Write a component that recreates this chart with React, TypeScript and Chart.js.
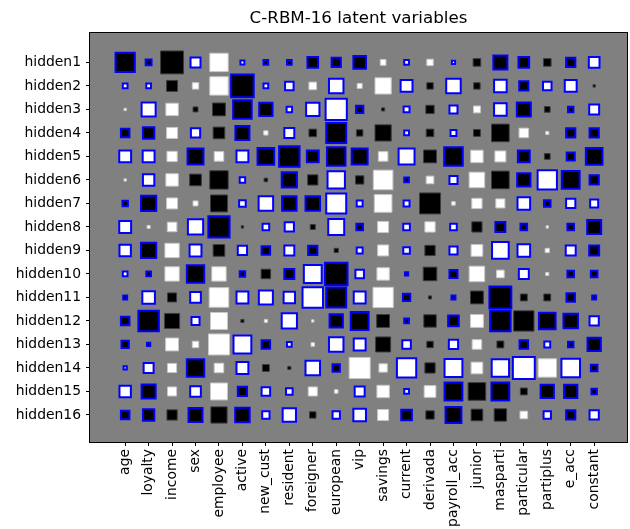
import React, { useEffect, useRef } from "react";
import { Chart, registerables } from "chart.js";

Chart.register(...registerables);

const TITLE = "C-RBM-16 latent variables";

const inputs = [
  "age", "loyalty", "income", "sex", "employee", "active", "new_cust",
  "resident", "foreigner", "european", "vip", "savings", "current",
  "derivada", "payroll_acc", "junior", "masparti", "particular",
  "partiplus", "e_acc", "constant",
];

const hiddenUnits = [
  "hidden1", "hidden2", "hidden3", "hidden4", "hidden5", "hidden6",
  "hidden7", "hidden8", "hidden9", "hidden10", "hidden11", "hidden12",
  "hidden13", "hidden14", "hidden15", "hidden16",
];

// signed weights (positive = white, negative = black)
const weights: number[][] = [
  [-0.89, -0.33, -1.0, 0.5, 0.81, 0.25, -0.28, -0.28, -0.53, -0.47, -0.61, 0.28, 0.28, 0.31, 0.22, -0.36, -0.67, -0.53, -0.36, -0.47, 0.53],
  [0.28, 0.28, -0.5, 0.31, 0.81, -1.03, 0.28, 0.44, 0.36, 0.69, 0.25, 0.72, 0.58, -0.31, 0.69, -0.31, 0.61, -0.47, 0.44, 0.58, -0.14],
  [0.14, 0.67, 0.56, -0.25, -0.58, -0.86, -0.64, 0.31, 0.64, 0.97, -0.39, -0.17, 0.33, -0.39, 0.42, 0.33, 0.61, -0.67, -0.28, -0.31, 0.5],
  [-0.44, -0.56, 0.5, 0.47, -0.53, -0.67, 0.22, 0.5, -0.36, -0.92, -0.31, -0.72, 0.28, -0.36, 0.33, -0.33, -0.78, 0.44, 0.17, -0.47, -0.47],
  [0.58, 0.58, 0.47, -0.75, 0.44, 0.58, -0.78, -0.94, -0.58, -0.86, -0.75, 0.44, 0.75, -0.58, -0.86, 0.56, 0.5, -0.58, -0.28, -0.42, -0.78],
  [0.14, 0.56, 0.56, -0.53, -0.81, 0.31, -0.19, -0.72, -0.47, 0.81, -0.39, 0.86, -0.28, 0.36, 0.42, 0.69, -0.78, -0.64, 0.89, -0.83, -0.47],
  [-0.31, -0.72, 0.5, 0.25, -0.75, 0.36, 0.69, -0.69, -0.69, 0.92, 0.33, 0.78, 0.33, -0.92, 0.19, 0.47, 0.42, 0.61, -0.36, 0.47, 0.42],
  [0.58, 0.17, 0.44, 0.72, -0.97, -0.14, 0.36, 0.47, -0.25, 0.75, -0.36, 0.5, 0.36, 0.47, 0.36, -0.47, -0.5, -0.36, 0.14, -0.36, -0.67],
  [0.56, -0.72, 0.64, 0.58, -0.53, 0.47, -0.44, 0.5, -0.47, -0.22, 0.33, 0.5, 0.36, -0.47, 0.42, 0.53, 0.78, 0.61, 0.22, 0.5, -0.5],
  [0.28, -0.28, 0.64, -0.81, 0.64, -0.31, -0.44, -0.5, 0.83, -1.03, 0.44, 0.56, -0.22, -0.61, -0.42, 0.69, 0.36, 0.5, 0.17, -0.36, -0.36],
  [-0.25, 0.61, -0.42, 0.53, 0.86, 0.58, 0.67, 0.56, 0.94, -0.92, 0.58, 0.89, -0.39, -0.17, -0.25, -0.58, -1.0, -0.33, -0.33, -0.44, -0.25],
  [-0.44, -0.94, -0.67, 0.42, 0.75, -0.17, 0.17, 0.72, 0.14, -0.64, -0.83, -0.58, -0.28, -0.56, -0.53, 0.58, -0.94, -0.89, -0.78, -0.69, 0.47],
  [-0.39, -0.22, 0.58, 0.31, 0.92, 0.83, -0.44, 0.28, 0.19, 0.69, 0.58, -0.67, 0.44, -0.31, 0.47, 0.44, -0.33, -0.44, 0.33, -0.31, -0.64],
  [0.22, 0.5, 0.42, -0.81, 0.44, 0.58, -0.33, -0.17, 0.69, -0.39, 0.92, 0.39, 0.89, -0.47, 0.83, 0.53, 0.81, 1.0, 0.81, 0.86, -0.36],
  [0.56, -0.67, 0.42, 0.53, 0.75, -0.47, 0.44, 0.36, 0.42, 0.19, 0.5, 0.56, 0.28, 0.53, -0.83, -0.78, -0.83, -0.33, -0.64, -0.64, -0.31],
  [-0.44, -0.56, -0.47, -0.67, -0.72, -0.69, 0.39, 0.64, -0.31, 0.39, 0.61, 0.5, -0.53, -0.39, -0.75, -0.53, -0.56, 0.36, 0.39, -0.47, 0.47],
];

// 1 = highlighted with a blue edge
const highlighted: number[][] = [
  [1, 1, 0, 1, 0, 1, 1, 1, 1, 1, 1, 0, 1, 0, 1, 0, 1, 1, 0, 1, 1],
  [1, 1, 0, 0, 0, 1, 1, 1, 0, 1, 0, 0, 1, 0, 1, 0, 1, 1, 1, 1, 0],
  [0, 1, 0, 0, 0, 1, 1, 1, 1, 1, 1, 0, 1, 0, 1, 0, 1, 1, 0, 1, 1],
  [1, 1, 0, 1, 0, 1, 0, 1, 0, 1, 0, 0, 1, 0, 1, 0, 0, 0, 0, 1, 1],
  [1, 1, 0, 1, 0, 1, 1, 1, 1, 1, 1, 0, 1, 0, 1, 0, 0, 1, 0, 1, 1],
  [0, 1, 0, 0, 0, 1, 0, 1, 0, 1, 0, 0, 1, 0, 1, 0, 0, 1, 1, 1, 1],
  [1, 1, 0, 0, 0, 1, 1, 1, 1, 1, 1, 0, 1, 0, 0, 0, 0, 1, 1, 1, 1],
  [1, 0, 0, 1, 1, 0, 1, 1, 0, 1, 1, 0, 1, 0, 1, 0, 1, 1, 0, 1, 1],
  [1, 1, 0, 1, 0, 1, 1, 1, 1, 0, 1, 0, 1, 0, 1, 0, 1, 1, 0, 1, 1],
  [1, 1, 0, 1, 0, 1, 0, 1, 1, 1, 1, 0, 1, 0, 1, 0, 0, 1, 0, 1, 1],
  [1, 1, 0, 1, 0, 1, 1, 1, 1, 1, 1, 0, 1, 0, 1, 0, 1, 0, 0, 1, 1],
  [1, 1, 0, 1, 0, 0, 0, 1, 0, 1, 1, 0, 1, 0, 1, 0, 1, 0, 1, 1, 1],
  [1, 1, 0, 0, 0, 1, 1, 1, 0, 1, 1, 0, 1, 0, 1, 0, 0, 1, 1, 1, 1],
  [1, 1, 0, 1, 0, 1, 0, 0, 1, 1, 0, 0, 1, 0, 1, 0, 1, 1, 0, 1, 1],
  [1, 1, 0, 1, 0, 1, 1, 1, 0, 0, 1, 0, 1, 0, 1, 0, 1, 0, 1, 1, 1],
  [1, 1, 0, 1, 0, 1, 1, 1, 0, 1, 1, 0, 1, 0, 1, 0, 0, 0, 1, 1, 1],
];

const FONT = "'DejaVu Sans', 'Liberation Sans', sans-serif";

const framePlugin = {
  id: "hintonFrame",
  beforeDraw(chart: any) {
    const { ctx, chartArea: a } = chart;
    ctx.save();
    ctx.fillStyle = "#808080";
    ctx.fillRect(a.left, a.top, a.right - a.left, a.bottom - a.top);
    ctx.restore();
  },
  afterDraw(chart: any) {
    const { ctx, chartArea: a } = chart;
    ctx.save();
    ctx.strokeStyle = "#000";
    ctx.lineWidth = 1;
    ctx.strokeRect(Math.round(a.left) - 0.5, Math.round(a.top) - 0.5, Math.round(a.right - a.left) + 1, Math.round(a.bottom - a.top) + 1);
    ctx.restore();
  },
};

export default function App() {
  const ref = useRef<HTMLCanvasElement>(null);

  useEffect(() => {
    document.body.style.margin = "0";
    const points: any[] = [];
    weights.forEach((row, r) =>
      row.forEach((v, c) => points.push({ x: c, y: r, v, m: highlighted[r][c] }))
    );

    const unit = (ctx: any) => {
      const xs = ctx.chart.scales.x;
      return Math.abs(xs.getPixelForValue(1) - xs.getPixelForValue(0));
    };
    const bw = (ctx: any) => (ctx.raw && ctx.raw.m ? 2 : 1);
    const radius = (ctx: any) => {
      if (!ctx.raw) return 0;
      const ext = Math.abs(ctx.raw.v) * unit(ctx) * 1.02;
      return Math.max(0.5, ext - bw(ctx)) / Math.SQRT2;
    };
    const fill = (ctx: any) => (ctx.raw && ctx.raw.v < 0 ? "#000000" : "#ffffff");
    const edge = (ctx: any) =>
      !ctx.raw ? "#000" : ctx.raw.m ? "#0000ff" : ctx.raw.v < 0 ? "#3c3c3c" : "#c8c8c8";

    const chart = new Chart(ref.current as HTMLCanvasElement, {
      type: "scatter",
      data: {
        datasets: [
          {
            data: points,
            pointStyle: "rect",
            pointRadius: radius,
            pointHoverRadius: radius,
            pointBorderWidth: bw,
            pointHoverBorderWidth: bw,
            pointBackgroundColor: fill,
            pointHoverBackgroundColor: fill,
            pointBorderColor: edge,
            pointHoverBorderColor: edge,
          } as any,
        ],
      },
      options: {
        responsive: false,
        animation: false,
        events: [],
        clip: false as any,
        layout: { padding: { left: 0, right: 3, top: 0, bottom: 0 } },
        plugins: {
          legend: { display: false },
          tooltip: { enabled: false },
          title: {
            display: true,
            text: TITLE,
            fullSize: false,
            color: "#000",
            font: { family: FONT, size: 16.7, weight: "normal" as any, lineHeight: 1.2 },
            padding: { top: 9, bottom: 4 },
          },
        },
        scales: {
          x: {
            type: "linear",
            position: "bottom",
            min: -1.5,
            max: 21.4,
            afterBuildTicks: (s: any) => {
              s.ticks = inputs.map((_, i) => ({ value: i }));
            },
            afterFit: (s: any) => {
              s.height = 87;
            },
            ticks: {
              autoSkip: false,
              minRotation: 90,
              maxRotation: 90,
              padding: 3,
              color: "#000",
              font: { family: FONT, size: 13.9 },
              callback: (v: any) => inputs[v as number],
            },
            grid: {
              drawOnChartArea: false,
              drawTicks: true,
              tickLength: 4,
              tickColor: "#000",
              tickWidth: 1,
            },
            border: { display: false },
          },
          y: {
            type: "linear",
            position: "left",
            reverse: true,
            min: -1.25,
            max: 16.15,
            afterBuildTicks: (s: any) => {
              s.ticks = hiddenUnits.map((_, i) => ({ value: i }));
            },
            afterFit: (s: any) => {
              s.width = 90;
            },
            ticks: {
              autoSkip: false,
              padding: 5,
              color: "#000",
              font: { family: FONT, size: 13.9 },
              callback: (v: any) => hiddenUnits[v as number],
            },
            grid: {
              drawOnChartArea: false,
              drawTicks: true,
              tickLength: 4,
              tickColor: "#000",
              tickWidth: 1,
            },
            border: { display: false },
          },
        },
      },
      plugins: [framePlugin],
    });

    return () => chart.destroy();
  }, []);

  return (
    <div style={{ width: 630, height: 529, background: "#fff" }}>
      <canvas ref={ref} width={630} height={529} style={{ display: "block" }} />
    </div>
  );
}
